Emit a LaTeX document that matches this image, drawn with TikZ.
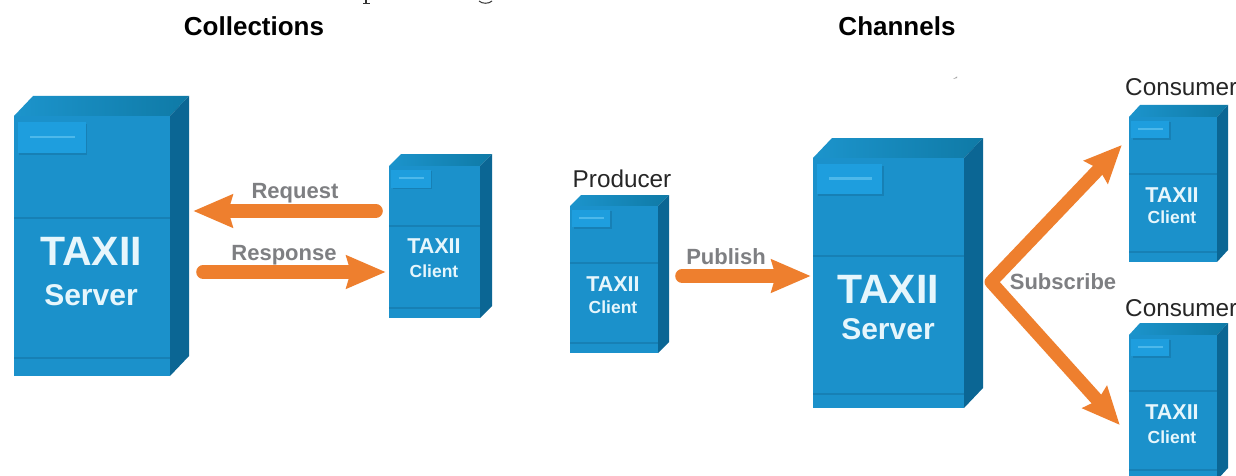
\documentclass[tikz,border=0pt]{standalone}
\usepackage{fontspec}
\setmainfont{Liberation Sans}
\usetikzlibrary{arrows.meta}
\definecolor{frontc}{HTML}{1B91CB}
\definecolor{topl}{HTML}{1C94CC}
\definecolor{topr}{HTML}{0F7AA6}
\definecolor{sidec}{HTML}{0B6694}
\definecolor{linec}{HTML}{1780B5}
\definecolor{panelc}{HTML}{1E9EDE}
\definecolor{panelline}{HTML}{4DB8EA}
\definecolor{txtc}{HTML}{E6F6FC}
\definecolor{orangec}{HTML}{EE7F2E}
\definecolor{greyc}{HTML}{7E7F82}
\tikzset{
  x=1pt,y=-1pt,
  unitbody/.style={fill=frontc,draw=none,inner sep=0pt},
  big/.style={anchor=base,text=txtc,font=\bfseries\fontsize{41}{41}\selectfont,inner sep=0pt},
  bigsub/.style={anchor=base,text=txtc,font=\bfseries\fontsize{30}{30}\selectfont,inner sep=0pt},
  small/.style={anchor=base,text=txtc,font=\bfseries\fontsize{21.5}{21.5}\selectfont,inner sep=0pt},
  smallsub/.style={anchor=base,text=txtc,font=\bfseries\fontsize{17.5}{17.5}\selectfont,inner sep=0pt},
  flowlabel/.style={anchor=base,text=greyc,font=\bfseries\fontsize{22}{22}\selectfont,inner sep=0pt},
  rolelabel/.style={anchor=base,text=black!85,font=\fontsize{24.3}{24.3}\selectfont,inner sep=0pt},
  headlabel/.style={anchor=base,text=black,font=\bfseries\fontsize{26}{26}\selectfont,inner sep=0pt},
  flow/.style={draw=orangec,line width=14pt,line cap=round,line join=round,
    -{Stealth[length=39pt,width=32pt,inset=4pt]}},
  flowtwo/.style={draw=orangec,line width=13pt,line join=round,
    {Stealth[length=37pt,width=32pt,inset=4pt]}-{Stealth[length=37pt,width=32pt,inset=4pt]}},
}
% name, x0, x1, ytop, ybot, depth x, depth y, y divider, y footer
\newcommand{\taxiiunit}[9]{%
  \pgfmathsetmacro{\uw}{#3-#2}
  \pgfmathsetmacro{\uh}{#5-#4}
  \pgfmathsetmacro{\ucx}{(#2+#3)/2}
  \pgfmathsetmacro{\ucy}{(#4+#5)/2}
  \pgfmathsetmacro{\pa}{#2+0.025*\uw}
  \pgfmathsetmacro{\pb}{#2+0.46*\uw}
  \pgfmathsetmacro{\pc}{#4+0.04*\uw}
  \pgfmathsetmacro{\pd}{#4+0.04*\uw+0.2*\uw}
  \pgfmathsetmacro{\la}{#2+0.105*\uw}
  \pgfmathsetmacro{\lb}{#2+0.39*\uw}
  \pgfmathsetmacro{\ly}{#4+0.04*\uw+0.095*\uw}
  \shade[left color=topl,right color=topr] (#2,#4) -- (#2+#6,#4-#7) -- (#3+#6,#4-#7) -- (#3,#4) -- cycle;
  \fill[sidec] (#3,#4) -- (#3+#6,#4-#7) -- (#3+#6,#5-#7) -- (#3,#5) -- cycle;
  \node[unitbody,minimum width=\uw pt,minimum height=\uh pt] (#1) at (\ucx,\ucy) {};
  \draw[linec,line width=1.4pt] (#2,#8) -- (#3,#8);
  \draw[linec,line width=1.4pt] (#2,#9) -- (#3,#9);
  \fill[linec] (\pa+1.5,\pc+1.5) rectangle (\pb+1.5,\pd+1.5);
  \fill[panelc] (\pa,\pc) rectangle (\pb,\pd);
  \draw[panelline,line width=2.4pt] (\la,\ly) -- (\lb,\ly);
}
\begin{document}
\begin{tikzpicture}
\clip (0,0) rectangle (1236,476);
\fill[white] (0,0) rectangle (1236,476);

% cut-off descenders of the line above
\draw[black!80,line width=1.3pt] (366,0) -- (366,3);
\draw[black!80,line width=1pt] (363,3.2) -- (370,3.2);
\draw[black!80,line width=1pt] (479,1) .. controls (482,4) and (489,4) .. (492,1);
\fill[black!35] (953,79) -- (957,76.5) -- (957,78) -- cycle;

\node[headlabel] (colhead) at (254,36) {Collections};
\node[headlabel] (chanhead) at (897,36) {Channels};

\taxiiunit{serverA}{14}{170}{116}{376}{19}{20}{218}{358}
\taxiiunit{clientA}{389}{480}{166}{318}{12}{12}{226}{308}
\taxiiunit{producer}{570}{658}{206}{353}{11}{11}{263}{343}
\taxiiunit{serverB}{813}{964}{158}{408}{19}{20}{256}{394}
\taxiiunit{consumerA}{1129}{1217}{117}{262}{11}{12}{174}{252}
\taxiiunit{consumerB}{1129}{1217}{335}{480}{11}{12}{391}{470}

\node[big] (tA) at (91,265) {TAXII};
\node[bigsub] (sA) at (91,305) {Server};
\node[small] (tB) at (434,253) {TAXII};
\node[smallsub] (cB) at (434,277) {Client};
\node[small] (tC) at (613,291) {TAXII};
\node[smallsub] (cC) at (613,313) {Client};
\node[big] (tD) at (888,303) {TAXII};
\node[bigsub] (sD) at (888,339) {Server};
\node[small] (tE) at (1172,202) {TAXII};
\node[smallsub] (cE) at (1172,223) {Client};
\node[small] (tF) at (1172,419) {TAXII};
\node[smallsub] (cF) at (1172,443) {Client};

\node[rolelabel] (prodlabel) at (622,187) {Producer};
\node[rolelabel,anchor=base west] (consA) at (1125,96) {Consumer};
\node[rolelabel,anchor=base west] (consB) at (1125,316) {Consumer};

\draw[flow] ([xshift=-13pt,yshift=31pt]clientA.west) -- ([xshift=23pt,yshift=35pt]serverA.east);
\draw[flow] ([xshift=33pt,yshift=-26pt]serverA.east) -- ([xshift=-3pt,yshift=-30pt]clientA.west);
\draw[flow] ([xshift=24pt,yshift=3.5pt]producer.east) -- ([xshift=-2pt,yshift=7pt]serverB.west);
\coordinate (vee) at (991,282);
\draw[flowtwo] ([xshift=-7pt,yshift=44.5pt]consumerA.west) -- (vee) -- ([xshift=-9pt,yshift=-17.5pt]consumerB.west);

\node[flowlabel] (reqlabel) at (295,198) {Request};
\node[flowlabel] (resplabel) at (284,260) {Response};
\node[flowlabel] (publabel) at (726,264) {Publish};
\node[flowlabel] (sublabel) at (1063,289) {Subscribe};
\end{tikzpicture}
\end{document}
